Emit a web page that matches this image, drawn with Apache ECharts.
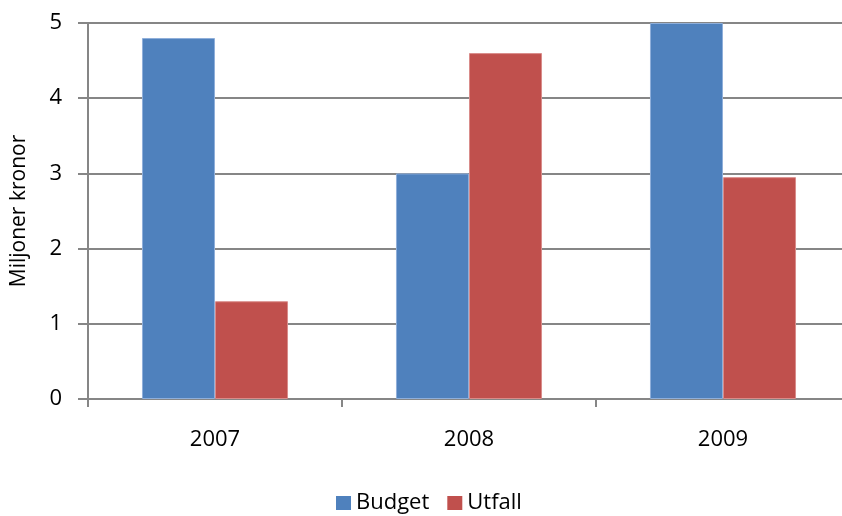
<!DOCTYPE html>
<html>
<head>
<meta charset="utf-8">
<script src="https://cdn.jsdelivr.net/npm/echarts@6/dist/echarts.min.js"></script>
<style>
  html, body { margin: 0; padding: 0; background: #fff; }
  #chart { width: 842px; height: 516px; }
</style>
</head>
<body>
<div id="chart"></div>
<script>
// Budget vs. outcome per year, in millions of kronor
const years = ['2007', '2008', '2009'];
const budget = [4.8, 3.0, 5.0];
const utfall = [1.3, 4.6, 2.95];
const yTicks = [0, 1, 2, 3, 4, 5];

const FONT = '"Open Sans", "Liberation Sans", sans-serif';
const GRID = '#868686';

const chart = echarts.init(document.getElementById('chart'));
chart.setOption({
  animation: false,
  backgroundColor: '#ffffff',
  textStyle: { fontFamily: FONT },
  // plot area runs a little past the right edge of the canvas
  grid: { left: 88, top: 23, width: 762, height: 376, outerBoundsMode: 'none', containLabel: false },
  legend: {
    top: 492,
    left: 336,
    padding: 0,
    itemWidth: 15,
    itemHeight: 14,
    itemGap: 18,
    icon: 'rect',
    itemStyle: { borderWidth: 0 },
    textStyle: { fontFamily: FONT, fontSize: 22, color: '#000' },
    data: ['Budget', 'Utfall']
  },
  xAxis: {
    type: 'category',
    data: years,
    axisLine: { lineStyle: { color: GRID, width: 2 } },
    axisTick: { show: true, length: 8, lineStyle: { color: GRID, width: 2 } },
    axisLabel: { fontFamily: FONT, fontSize: 22, color: '#000', margin: 30 }
  },
  yAxis: {
    type: 'value',
    min: yTicks[0],
    max: yTicks[yTicks.length - 1],
    interval: 1,
    name: 'Miljoner kronor',
    nameLocation: 'middle',
    nameRotate: 90,
    nameGap: 58,
    nameTextStyle: { fontFamily: FONT, fontSize: 21, color: '#000' },
    axisLine: { show: true, lineStyle: { color: GRID, width: 2 } },
    axisTick: { show: true, length: 10, lineStyle: { color: GRID, width: 2 } },
    axisLabel: { fontFamily: FONT, fontSize: 22, color: '#000', margin: 26 },
    splitLine: { lineStyle: { color: GRID, width: 2 } }
  },
  series: [
    {
      name: 'Budget',
      type: 'bar',
      data: budget,
      barGap: '0%',
      barCategoryGap: '42.5%',
      itemStyle: { color: '#4F81BD', borderColor: '#8FAFDA', borderWidth: 1 }
    },
    {
      name: 'Utfall',
      type: 'bar',
      data: utfall,
      barGap: '0%',
      barCategoryGap: '42.5%',
      itemStyle: { color: '#C0504D', borderColor: '#D98C8A', borderWidth: 1 }
    }
  ]
});
</script>
</body>
</html>
